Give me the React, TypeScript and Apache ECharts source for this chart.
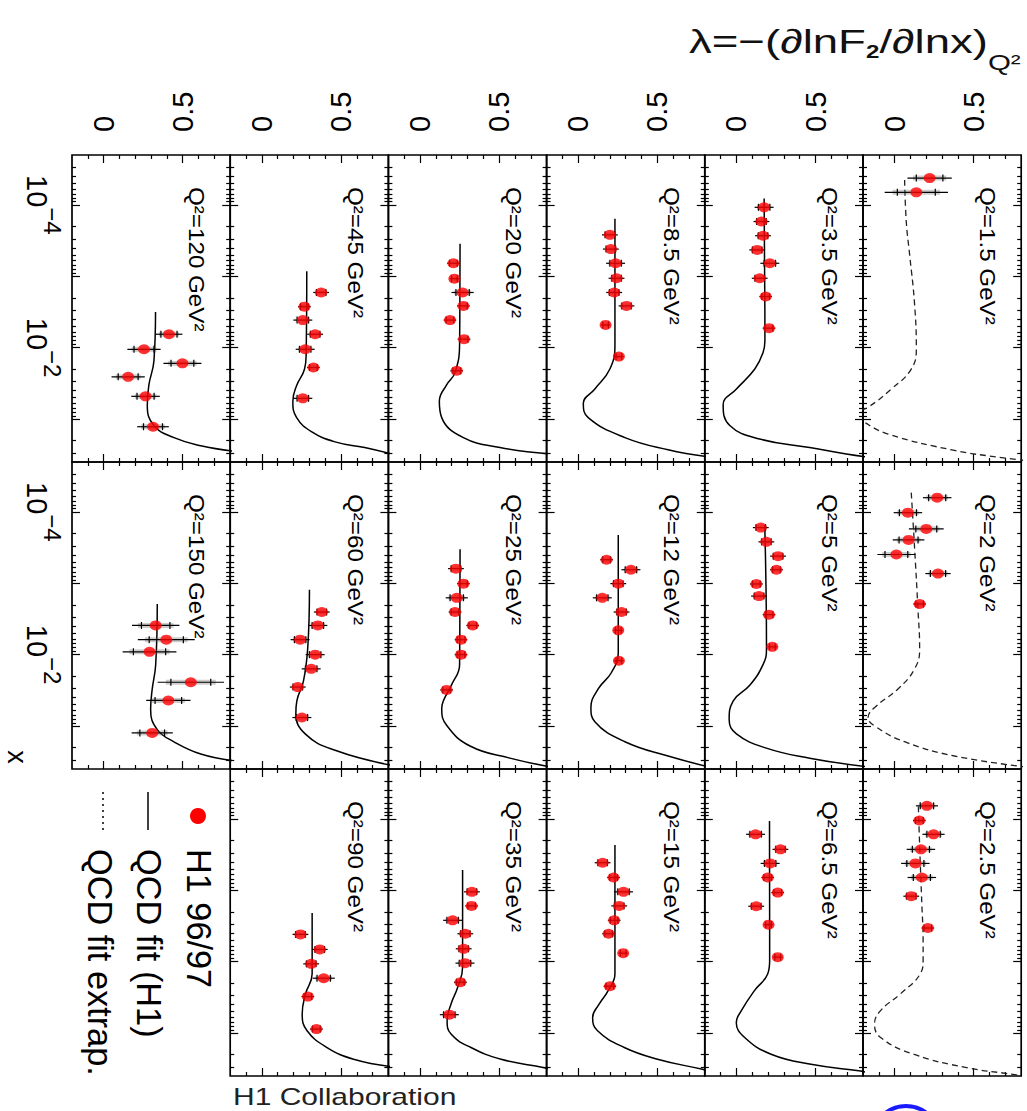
import React, { useEffect, useRef } from 'react';
import * as echarts from 'echarts';

// ---- measurements: log10(x), lambda, total error; QCD fit curves as log10(x), lambda ----
const lgx_1_5 = [-4.375, -4.176];
const lam_1_5 = [0.221, 0.137];
const err_1_5 = [0.14, 0.2];
const fitLgx_1_5 = [-4.35, -3.75, -3.3, -2.61, -1.99, -1.7, -1.42, -1.165, -1.07, -0.966, -0.79, -0.56, -0.46, -0.42];
const fitLam_1_5 = [0.063, 0.074, 0.095, 0.126, 0.137, 0.105, -0.021, -0.168, -0.26, -0.2, -0.042, 0.379, 0.674, 0.82];

const lgx_2 = [-4.199, -3.989, -3.762, -3.607, -3.403, -3.136, -2.71];
const lam_2 = [0.269, 0.084, 0.2, 0.088, 0.011, 0.274, 0.158];
const err_2 = [0.09, 0.09, 0.11, 0.1, 0.12, 0.08, 0.04];
const fitLgx_2 = [-4.27, -3.5, -2.65, -2.08, -1.8, -1.52, -1.26, -1.12, -1.0, -0.78, -0.58, -0.43];
const fitLam_2 = [0.105, 0.126, 0.147, 0.158, 0.126, 0.021, -0.126, -0.168, -0.126, 0.063, 0.379, 0.82];

const lgx_2_5 = [-4.183, -3.977, -3.784, -3.573, -3.376, -3.179, -2.917, -2.471];
const lam_2_5 = [0.204, 0.156, 0.246, 0.166, 0.131, 0.172, 0.105, 0.21];
const err_2_5 = [0.07, 0.04, 0.07, 0.09, 0.09, 0.09, 0.05, 0.04];
const fitLgx_2_5 = [-4.174, -3.5, -2.8, -2.3, -2.016, -1.83, -1.547, -1.313, -1.125, -0.938, -0.703, -0.515, -0.421, -0.4];
const fitLam_2_5 = [0.15, 0.16, 0.172, 0.18, 0.18, 0.162, 0.036, -0.089, -0.127, -0.089, 0.12, 0.455, 0.748, 0.8];

const lgx_3_5 = [-3.966, -3.767, -3.568, -3.369, -3.182, -2.972, -2.716, -2.273];
const lam_3_5 = [0.175, 0.158, 0.168, 0.131, 0.211, 0.147, 0.185, 0.206];
const err_3_5 = [0.06, 0.05, 0.05, 0.05, 0.06, 0.05, 0.04, 0.04];
const fitLgx_3_5 = [-4.091, -2.1, -1.93, -1.7, -1.42, -1.2, -0.91, -0.72, -0.6, -0.51, -0.47];
const fitLam_3_5 = [0.175, 0.18, 0.168, 0.116, 0.0, -0.084, -0.042, 0.147, 0.463, 0.695, 0.82];

const lgx_5 = [-3.78, -3.58, -3.38, -3.19, -2.99, -2.82, -2.56, -2.11];
const lam_5 = [0.154, 0.189, 0.263, 0.253, 0.126, 0.143, 0.206, 0.227];
const err_5 = [0.05, 0.05, 0.05, 0.04, 0.04, 0.05, 0.04, 0.03];
const fitLgx_5 = [-3.818, -2.08, -1.86, -1.57, -1.35, -1.09, -0.89, -0.69, -0.55, -0.43];
const fitLam_5 = [0.179, 0.19, 0.168, 0.084, -0.021, -0.046, 0.0, 0.189, 0.463, 0.82];

const lgx_6_5 = [-3.784, -3.573, -3.376, -3.179, -2.968, -2.776, -2.518, -2.063];
const lam_6_5 = [0.121, 0.278, 0.213, 0.198, 0.261, 0.125, 0.203, 0.261];
const err_6_5 = [0.06, 0.05, 0.06, 0.04, 0.04, 0.05, 0.03, 0.03];
const fitLgx_6_5 = [-3.972, -2.016, -1.83, -1.594, -1.313, -1.149, -0.938, -0.703, -0.562, -0.468, -0.45];
const fitLam_6_5 = [0.209, 0.21, 0.198, 0.114, 0.031, -0.001, 0.052, 0.219, 0.471, 0.785, 0.82];

const lgx_8_5 = [-3.58, -3.381, -3.182, -2.972, -2.773, -2.585, -2.318, -1.875];
const lam_8_5 = [0.2, 0.206, 0.236, 0.242, 0.227, 0.305, 0.173, 0.257];
const err_8_5 = [0.05, 0.05, 0.06, 0.05, 0.05, 0.05, 0.03, 0.03];
const fitLgx_8_5 = [-3.807, -2.04, -1.7, -1.42, -1.22, -1.02, -0.74, -0.57, -0.47];
const fitLam_8_5 = [0.232, 0.232, 0.2, 0.105, 0.032, 0.063, 0.295, 0.568, 0.82];

const lgx_12 = [-3.33, -3.19, -2.995, -2.796, -2.597, -2.341, -1.915];
const lam_12 = [0.179, 0.333, 0.253, 0.152, 0.274, 0.253, 0.257];
const err_12 = [0.04, 0.06, 0.05, 0.06, 0.05, 0.03, 0.03];
const fitLgx_12 = [-3.676, -2.03, -1.75, -1.52, -1.26, -1.06, -0.78, -0.58, -0.43];
const fitLam_12 = [0.253, 0.253, 0.21, 0.126, 0.08, 0.105, 0.295, 0.568, 0.82];

const lgx_15 = [-3.386, -3.179, -2.978, -2.781, -2.579, -2.391, -2.119, -1.655];
const lam_15 = [0.154, 0.223, 0.286, 0.259, 0.227, 0.192, 0.284, 0.2];
const err_15 = [0.05, 0.04, 0.06, 0.05, 0.04, 0.04, 0.03, 0.04];
const fitLgx_15 = [-3.634, -1.829, -1.594, -1.407, -1.219, -1.032, -0.797, -0.633, -0.492, -0.47];
const fitLam_15 = [0.232, 0.232, 0.189, 0.133, 0.091, 0.122, 0.291, 0.501, 0.785, 0.82];

const lgx_20 = [-3.182, -2.966, -2.773, -2.585, -2.386, -2.119, -1.676];
const lam_20 = [0.211, 0.217, 0.269, 0.274, 0.189, 0.278, 0.232];
const err_20 = [0.04, 0.03, 0.07, 0.04, 0.04, 0.04, 0.04];
const fitLgx_20 = [-3.455, -2.05, -1.65, -1.48, -1.25, -1.02, -0.74, -0.6, -0.51];
const fitLam_20 = [0.253, 0.25, 0.221, 0.168, 0.122, 0.137, 0.274, 0.505, 0.82];

const lgx_25 = [-3.205, -2.995, -2.796, -2.597, -2.409, -2.21, -2.0, -1.506];
const lam_25 = [0.227, 0.274, 0.232, 0.221, 0.333, 0.259, 0.259, 0.168];
const err_25 = [0.05, 0.04, 0.07, 0.04, 0.04, 0.04, 0.04, 0.04];
const fitLgx_25 = [-3.477, -1.86, -1.58, -1.35, -1.24, -1.01, -0.72, -0.55, -0.43];
const fitLam_25 = [0.253, 0.25, 0.2, 0.147, 0.137, 0.168, 0.316, 0.568, 0.82];

const lgx_35 = [-2.978, -2.781, -2.579, -2.391, -2.18, -1.979, -1.711, -1.257];
const lam_35 = [0.328, 0.326, 0.206, 0.286, 0.276, 0.284, 0.255, 0.185];
const err_35 = [0.05, 0.04, 0.06, 0.05, 0.05, 0.06, 0.04, 0.06];
const fitLgx_35 = [-3.283, -1.923, -1.641, -1.407, -1.172, -0.985, -0.797, -0.633, -0.515, -0.49];
const fitLam_35 = [0.269, 0.269, 0.238, 0.196, 0.171, 0.196, 0.322, 0.512, 0.785, 0.82];

const lgx_45 = [-2.773, -2.574, -2.386, -2.188, -1.977, -1.722, -1.29];
const lam_45 = [0.375, 0.269, 0.259, 0.337, 0.274, 0.326, 0.259];
const err_45 = [0.05, 0.04, 0.06, 0.05, 0.06, 0.04, 0.06];
const fitLgx_45 = [-3.07, -1.9, -1.7, -1.47, -1.25, -1.02, -0.82, -0.68, -0.6, -0.51];
const fitLam_45 = [0.284, 0.28, 0.27, 0.22, 0.196, 0.22, 0.316, 0.463, 0.65, 0.82];

const lgx_60 = [-2.597, -2.409, -2.21, -2.0, -1.801, -1.546, -1.119];
const lam_60 = [0.379, 0.354, 0.242, 0.337, 0.312, 0.227, 0.253];
const err_60 = [0.05, 0.06, 0.06, 0.06, 0.06, 0.05, 0.06];
const fitLgx_60 = [-2.909, -2.09, -1.63, -1.35, -1.18, -0.89, -0.66, -0.45];
const fitLam_60 = [0.301, 0.29, 0.263, 0.221, 0.215, 0.274, 0.463, 0.82];

const lgx_90 = [-2.382, -2.171, -1.969, -1.768, -1.51, -1.055];
const lam_90 = [0.244, 0.366, 0.312, 0.391, 0.291, 0.345];
const err_90 = [0.05, 0.05, 0.05, 0.07, 0.04, 0.04];
const fitLgx_90 = [-2.682, -1.829, -1.547, -1.266, -1.032, -0.797, -0.633, -0.53];
const fitLam_90 = [0.318, 0.318, 0.276, 0.255, 0.286, 0.412, 0.58, 0.82];

const lgx_120 = [-2.188, -1.977, -1.78, -1.591, -1.318, -0.892];
const lam_120 = [0.413, 0.255, 0.498, 0.155, 0.265, 0.312];
const err_120 = [0.085, 0.105, 0.12, 0.105, 0.09, 0.1];
const fitLgx_120 = [-2.5, -1.818, -1.477, -1.193, -0.909, -0.739, -0.625, -0.55];
const fitLam_120 = [0.328, 0.318, 0.286, 0.276, 0.318, 0.445, 0.614, 0.82];

const lgx_150 = [-2.409, -2.21, -2.039, -1.613, -1.358, -0.903];
const lam_150 = [0.329, 0.396, 0.29, 0.551, 0.409, 0.307];
const err_150 = [0.15, 0.18, 0.17, 0.21, 0.14, 0.13];
const fitLgx_150 = [-2.71, -1.858, -1.517, -1.233, -0.949, -0.779, -0.608, -0.515];
const fitLam_150 = [0.339, 0.329, 0.307, 0.297, 0.339, 0.445, 0.614, 0.82];

// ---- axis ticks ----
const LAM_MIN = -0.2;
const LAM_MAX = 0.8;
const LG_MIN = Math.log10(2e-5);
const LG_MAX = Math.log10(0.4);
const lamMajorTicks = [0, 0.5];
const lamMinorTicks = [-0.1, 0.1, 0.2, 0.3, 0.4, 0.6, 0.7];
const lamTickLabels = [0, 0.5];
const xDecadeTicks = [-4, -3, -2, -1];
const xDecadeLabels = [-4, -2];
const xMinorTicks: number[] = [];
for (const n of [-5, -4, -3, -2, -1]) {
  for (let k = 2; k <= 9; k++) {
    const v = n + Math.log10(k);
    if (v > LG_MIN && v < LG_MAX) xMinorTicks.push(v);
  }
}

type Panel = {
  q2: string; col: number; row: number; extrap: boolean;
  lgx: number[]; lam: number[]; err: number[]; fitLgx: number[]; fitLam: number[];
};

const panels: Panel[] = [
  { q2: '1.5', col: 5, row: 0, extrap: true, lgx: lgx_1_5, lam: lam_1_5, err: err_1_5, fitLgx: fitLgx_1_5, fitLam: fitLam_1_5 },
  { q2: '2', col: 5, row: 1, extrap: true, lgx: lgx_2, lam: lam_2, err: err_2, fitLgx: fitLgx_2, fitLam: fitLam_2 },
  { q2: '2.5', col: 5, row: 2, extrap: true, lgx: lgx_2_5, lam: lam_2_5, err: err_2_5, fitLgx: fitLgx_2_5, fitLam: fitLam_2_5 },
  { q2: '3.5', col: 4, row: 0, extrap: false, lgx: lgx_3_5, lam: lam_3_5, err: err_3_5, fitLgx: fitLgx_3_5, fitLam: fitLam_3_5 },
  { q2: '5', col: 4, row: 1, extrap: false, lgx: lgx_5, lam: lam_5, err: err_5, fitLgx: fitLgx_5, fitLam: fitLam_5 },
  { q2: '6.5', col: 4, row: 2, extrap: false, lgx: lgx_6_5, lam: lam_6_5, err: err_6_5, fitLgx: fitLgx_6_5, fitLam: fitLam_6_5 },
  { q2: '8.5', col: 3, row: 0, extrap: false, lgx: lgx_8_5, lam: lam_8_5, err: err_8_5, fitLgx: fitLgx_8_5, fitLam: fitLam_8_5 },
  { q2: '12', col: 3, row: 1, extrap: false, lgx: lgx_12, lam: lam_12, err: err_12, fitLgx: fitLgx_12, fitLam: fitLam_12 },
  { q2: '15', col: 3, row: 2, extrap: false, lgx: lgx_15, lam: lam_15, err: err_15, fitLgx: fitLgx_15, fitLam: fitLam_15 },
  { q2: '20', col: 2, row: 0, extrap: false, lgx: lgx_20, lam: lam_20, err: err_20, fitLgx: fitLgx_20, fitLam: fitLam_20 },
  { q2: '25', col: 2, row: 1, extrap: false, lgx: lgx_25, lam: lam_25, err: err_25, fitLgx: fitLgx_25, fitLam: fitLam_25 },
  { q2: '35', col: 2, row: 2, extrap: false, lgx: lgx_35, lam: lam_35, err: err_35, fitLgx: fitLgx_35, fitLam: fitLam_35 },
  { q2: '45', col: 1, row: 0, extrap: false, lgx: lgx_45, lam: lam_45, err: err_45, fitLgx: fitLgx_45, fitLam: fitLam_45 },
  { q2: '60', col: 1, row: 1, extrap: false, lgx: lgx_60, lam: lam_60, err: err_60, fitLgx: fitLgx_60, fitLam: fitLam_60 },
  { q2: '90', col: 1, row: 2, extrap: false, lgx: lgx_90, lam: lam_90, err: err_90, fitLgx: fitLgx_90, fitLam: fitLam_90 },
  { q2: '120', col: 0, row: 0, extrap: false, lgx: lgx_120, lam: lam_120, err: err_120, fitLgx: fitLgx_120, fitLam: fitLam_120 },
  { q2: '150', col: 0, row: 1, extrap: false, lgx: lgx_150, lam: lam_150, err: err_150, fitLgx: fitLgx_150, fitLam: fitLam_150 },
];

// ---- layout ----
const FONT = 'Liberation Sans, Arial, sans-serif';
const GRID_X0 = 72;
const GRID_Y0 = 155;
const CELL_W = 158.2;
const CELL_H = 307;

// horizontal error bar: grey systematic band, black total error line, ticks at the statistical error
function errorBarItem(params: any, api: any) {
  const lam = api.value(0);
  const lg = api.value(1);
  const e = api.value(2);
  const a = api.coord([lam - e, lg]);
  const b = api.coord([lam + e, lg]);
  const g0 = api.coord([lam - 0.75 * e, lg]);
  const g1 = api.coord([lam + 0.75 * e, lg]);
  const s0 = api.coord([lam - 0.6 * e, lg]);
  const s1 = api.coord([lam + 0.6 * e, lg]);
  const st = { stroke: '#000', lineWidth: 1.2 };
  return {
    type: 'group',
    children: [
      { type: 'line', shape: { x1: g0[0], y1: g0[1], x2: g1[0], y2: g1[1] }, style: { stroke: 'rgba(110,110,110,0.35)', lineWidth: 5 } },
      { type: 'line', shape: { x1: a[0], y1: a[1], x2: b[0], y2: b[1] }, style: st },
      { type: 'line', shape: { x1: s0[0], y1: s0[1] - 3.5, x2: s0[0], y2: s0[1] + 3.5 }, style: st },
      { type: 'line', shape: { x1: s1[0], y1: s1[1] - 3.5, x2: s1[0], y2: s1[1] + 3.5 }, style: st },
    ],
  };
}

function buildOption() {
  const grid: any[] = [];
  const xAxis: any[] = [];
  const yAxis: any[] = [];
  const series: any[] = [];
  const graphic: any[] = [];
  const tickLine = { color: '#000', width: 1.2 };

  panels.forEach((p, i) => {
    const left = GRID_X0 + p.col * CELL_W;
    const top = GRID_Y0 + p.row * CELL_H;
    grid.push({
      left, top, width: CELL_W, height: CELL_H, show: true,
      borderColor: '#000', borderWidth: 1.7, backgroundColor: 'transparent',
    });

    const lamAxis = (position: string, ticks: number[], length: number, labels: boolean) => ({
      type: 'value', gridIndex: i, position, min: LAM_MIN, max: LAM_MAX,
      axisLine: { show: false, onZero: false },
      splitLine: { show: false },
      axisTick: { show: true, inside: true, length, customValues: ticks, lineStyle: tickLine },
      axisLabel: labels
        ? {
            show: true, customValues: lamTickLabels, rotate: -90, margin: 23,
            fontSize: 29, fontFamily: FONT, color: '#000',
            formatter: (v: number) => String(v),
          }
        : { show: false },
    });
    xAxis.push(
      lamAxis('bottom', lamMinorTicks, 4, false),
      lamAxis('bottom', lamMajorTicks, 8, false),
      lamAxis('top', lamMinorTicks, 4, false),
      lamAxis('top', lamMajorTicks, 8, p.row === 0),
    );

    const lgAxis = (position: string, ticks: number[], length: number, labels: boolean) => ({
      type: 'value', gridIndex: i, position, min: LG_MIN, max: LG_MAX, inverse: true,
      axisLine: { show: false, onZero: false },
      splitLine: { show: false },
      axisTick: { show: true, inside: true, length, customValues: ticks, lineStyle: tickLine },
      axisLabel: labels
        ? {
            show: true, customValues: xDecadeLabels, rotate: -90, margin: 8,
            formatter: (v: number) => `{b|10}{s|−${Math.round(-v)}}`,
            rich: {
              b: { fontSize: 29, fontFamily: FONT, color: '#000', verticalAlign: 'middle' },
              s: { fontSize: 24, fontFamily: FONT, color: '#000', verticalAlign: 'middle', padding: [0, 0, 30, 0] },
            },
          }
        : { show: false },
    });
    yAxis.push(
      lgAxis('left', xMinorTicks, 4, false),
      lgAxis('left', xDecadeTicks, 8, p.col === 0),
      lgAxis('right', xMinorTicks, 4, false),
      lgAxis('right', xDecadeTicks, 8, false),
    );

    const ax = 4 * i;
    series.push({
      type: 'line', xAxisIndex: ax, yAxisIndex: ax,
      data: p.fitLgx.map((g, j) => [p.fitLam[j], g]),
      smooth: 0.45, symbol: 'none', clip: true, z: 2,
      lineStyle: p.extrap
        ? { color: '#222', width: 1.3, type: [6, 4] }
        : { color: '#000', width: 1.5, type: 'solid' },
    });
    series.push({
      type: 'custom', xAxisIndex: ax, yAxisIndex: ax, z: 3,
      encode: { x: 0, y: 1 },
      data: p.lgx.map((g, j) => [p.lam[j], g, p.err[j]]),
      renderItem: errorBarItem,
    });
    series.push({
      type: 'scatter', xAxisIndex: ax, yAxisIndex: ax, z: 4,
      data: p.lgx.map((g, j) => [p.lam[j], g]),
      symbol: 'circle', symbolSize: [12, 10],
      itemStyle: { color: '#ff0000' },
    });

    graphic.push({
      type: 'text', x: left + 125, y: top + 32, rotation: -Math.PI / 2, scaleX: 1.1, z: 10,
      style: {
        text: `Q²=${p.q2} GeV²`, fontSize: 22, fontFamily: FONT, fill: '#000',
        align: 'left', verticalAlign: 'middle',
      },
    });
  });

  // axis title for lambda
  graphic.push({
    type: 'text', x: 689, y: 42, scaleX: 1.34, z: 10,
    style: {
      text: '{m|λ=−(∂lnF}{d|2}{m|/∂lnx)}{q|Q²}',
      align: 'left', verticalAlign: 'middle',
      rich: {
        m: { fontSize: 34, fontFamily: FONT, fill: '#111', verticalAlign: 'middle' },
        d: { fontSize: 18, fontFamily: FONT, fontWeight: 'bold', fill: '#111', verticalAlign: 'middle', padding: [20, 0, 0, 0] },
        q: { fontSize: 22, fontFamily: FONT, fill: '#111', verticalAlign: 'middle', padding: [40, 0, 0, 0] },
      },
    },
  });

  // x axis title
  graphic.push({
    type: 'text', x: 17, y: 757, rotation: -Math.PI / 2, z: 10,
    style: { text: 'x', fontSize: 27, fontFamily: FONT, fill: '#000', align: 'center', verticalAlign: 'middle' },
  });

  // legend
  graphic.push({ type: 'circle', shape: { cx: 198, cy: 816, r: 8 }, style: { fill: '#ff0000' }, z: 10 });
  graphic.push({ type: 'line', shape: { x1: 148, y1: 792, x2: 148, y2: 830 }, style: { stroke: '#000', lineWidth: 1.5 }, z: 10 });
  graphic.push({ type: 'line', shape: { x1: 103, y1: 792, x2: 103, y2: 830 }, style: { stroke: '#000', lineWidth: 1.5, lineDash: [2, 4] }, z: 10 });
  const legendText = (text: string, x: number) => ({
    type: 'text', x, y: 849, rotation: -Math.PI / 2, scaleX: 0.98, z: 10,
    style: { text, fontSize: 35, fontFamily: FONT, fill: '#000', align: 'left', verticalAlign: 'middle' },
  });
  graphic.push(legendText('H1 96/97', 199));
  graphic.push(legendText('QCD fit (H1)', 149));
  graphic.push(legendText('QCD fit extrap.', 100));

  graphic.push({
    type: 'text', x: 233, y: 1097, scaleX: 1.25, z: 10,
    style: { text: 'H1 Collaboration', fontSize: 24, fontFamily: FONT, fill: '#222', align: 'left', verticalAlign: 'middle' },
  });
  graphic.push({
    type: 'ellipse', shape: { cx: 906, cy: 1138, rx: 33, ry: 32 },
    style: { fill: 'none', stroke: '#1a1aff', lineWidth: 4 }, z: 10,
  });

  return {
    animation: false,
    backgroundColor: '#fff',
    textStyle: { fontFamily: FONT },
    grid, xAxis, yAxis, series, graphic,
  };
}

export default function App() {
  const ref = useRef<HTMLDivElement>(null);
  useEffect(() => {
    if (!ref.current) return;
    const chart = echarts.init(ref.current, undefined, { renderer: 'svg', width: 1027, height: 1111 });
    chart.setOption(buildOption() as any);
    return () => chart.dispose();
  }, []);
  return (
    <div
      ref={ref}
      style={{ position: 'fixed', left: 0, top: 0, width: 1027, height: 1111, background: '#fff' }}
    />
  );
}
